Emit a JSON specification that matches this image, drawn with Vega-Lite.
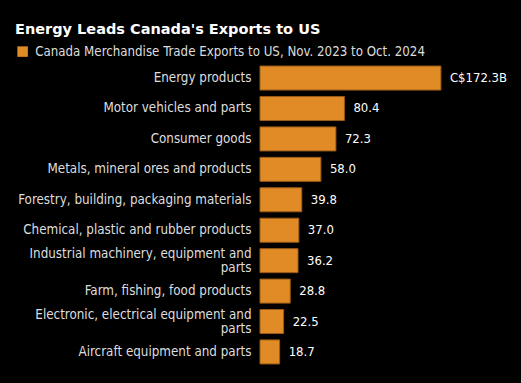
{
  "$schema": "https://vega.github.io/schema/vega-lite/v6.json",
  "autosize": {"type": "none"},
  "width": 210,
  "height": 304,
  "padding": {"left": 260, "top": 63, "right": 51, "bottom": 16},
  "background": "#000000",
  "title": {
    "text": "Energy Leads Canada's Exports to US",
    "anchor": "start",
    "frame": "group",
    "dx": -245,
    "offset": 8,
    "font": "DejaVu Sans",
    "fontWeight": "bold",
    "fontSize": 14.5,
    "color": "#FFFFFF"
  },
  "config": {
    "view": {"stroke": null},
    "font": "DejaVu Sans Condensed"
  },
  "data": {
    "values": [
      {"category": "Energy products", "value": 172.3, "label": "C$172.3B", "series": "Canada Merchandise Trade Exports to US, Nov. 2023 to Oct. 2024"},
      {"category": "Motor vehicles and parts", "value": 80.4, "label": "80.4", "series": "Canada Merchandise Trade Exports to US, Nov. 2023 to Oct. 2024"},
      {"category": "Consumer goods", "value": 72.3, "label": "72.3", "series": "Canada Merchandise Trade Exports to US, Nov. 2023 to Oct. 2024"},
      {"category": "Metals, mineral ores and products", "value": 58.0, "label": "58.0", "series": "Canada Merchandise Trade Exports to US, Nov. 2023 to Oct. 2024"},
      {"category": "Forestry, building, packaging materials", "value": 39.8, "label": "39.8", "series": "Canada Merchandise Trade Exports to US, Nov. 2023 to Oct. 2024"},
      {"category": "Chemical, plastic and rubber products", "value": 37.0, "label": "37.0", "series": "Canada Merchandise Trade Exports to US, Nov. 2023 to Oct. 2024"},
      {"category": "Industrial machinery, equipment and\nparts", "value": 36.2, "label": "36.2", "series": "Canada Merchandise Trade Exports to US, Nov. 2023 to Oct. 2024"},
      {"category": "Farm, fishing, food products", "value": 28.8, "label": "28.8", "series": "Canada Merchandise Trade Exports to US, Nov. 2023 to Oct. 2024"},
      {"category": "Electronic, electrical equipment and\nparts", "value": 22.5, "label": "22.5", "series": "Canada Merchandise Trade Exports to US, Nov. 2023 to Oct. 2024"},
      {"category": "Aircraft equipment and parts", "value": 18.7, "label": "18.7", "series": "Canada Merchandise Trade Exports to US, Nov. 2023 to Oct. 2024"}
    ]
  },
  "encoding": {
    "y": {
      "field": "category",
      "type": "nominal",
      "sort": {"field": "value", "order": "descending"},
      "scale": {"paddingInner": 0.21, "paddingOuter": 0.1},
      "axis": {
        "title": null,
        "domain": false,
        "ticks": false,
        "labelPadding": 9,
        "labelFontSize": 13.3,
        "labelColor": "#DDDDDD",
        "labelFont": "DejaVu Sans Condensed",
        "labelLimit": 300,
        "labelLineHeight": 14,
        "labelOffset": {"condition": {"test": "indexof(datum.value, '\\n') >= 0", "value": -7}, "value": 0},
        "labelExpr": "split(datum.label, '\\n')"
      }
    },
    "x": {
      "field": "value",
      "type": "quantitative",
      "scale": {"domain": [0, 200]},
      "axis": null
    }
  },
  "layer": [
    {
      "mark": {"type": "bar", "stroke": "#9A5A18", "strokeWidth": 1},
      "encoding": {
        "color": {
          "field": "series",
          "type": "nominal",
          "scale": {"range": ["#E08B26"]},
          "legend": {
            "orient": "none",
            "legendX": -244,
            "legendY": -18,
            "title": null,
            "symbolType": "square",
            "symbolSize": 110,
            "symbolStrokeWidth": 0,
            "labelFontSize": 13.2,
            "labelColor": "#DDDDDD",
            "labelFont": "DejaVu Sans Condensed",
            "labelLimit": 500,
            "labelOffset": 6
          }
        }
      }
    },
    {
      "mark": {"type": "text", "align": "left", "dx": 9, "fontSize": 13, "color": "#FFFFFF", "font": "DejaVu Sans Condensed"},
      "encoding": {"text": {"field": "label"}}
    }
  ]
}
